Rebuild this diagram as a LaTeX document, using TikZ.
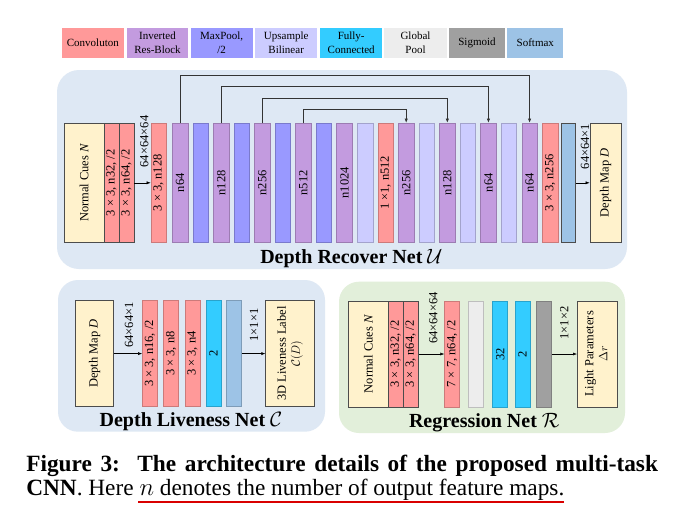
\documentclass[tikz,border=0pt]{standalone}
\usepackage{fontspec}
\setmainfont{Liberation Serif}
\usetikzlibrary{arrows.meta}
\definecolor{convc}{HTML}{FF9999}
\definecolor{resc}{HTML}{C39BDF}
\definecolor{poolc}{HTML}{9999FF}
\definecolor{upc}{HTML}{CCCCFF}
\definecolor{fcc}{HTML}{33CCFF}
\definecolor{gpc}{HTML}{EDEDED}
\definecolor{sigc}{HTML}{A0A0A0}
\definecolor{smc}{HTML}{9DC3E6}
\definecolor{cuec}{HTML}{FFF2CC}
\definecolor{panelb}{HTML}{DEE8F4}
\definecolor{panelg}{HTML}{E2EFDA}
\newcommand{\blkfont}{\fontsize{12.5}{14}\selectfont}
\newcommand{\legfont}{\fontsize{11}{14}\selectfont}
\newcommand{\ttlfont}{\fontsize{20}{24}\selectfont\bfseries}
\newcommand{\rtext}[1]{\rotatebox{90}{#1}}
\newcommand{\rlines}[2]{\rotatebox{90}{\begin{tabular}{@{}c@{}}#1\\#2\end{tabular}}}
\begin{document}
\begin{tikzpicture}[x=1pt, y=-1pt, line width=0.6pt,
  blk/.style={draw=#1!80!black, fill=#1, minimum width=15.5pt, inner sep=0pt, font=\blkfont},
  blkd/.style={blk=#1, draw=black!70},
  tallblk/.style={minimum height=119pt},
  lowblk/.style={minimum height=106pt},
  cue/.style={draw=black!70, fill=cuec, inner sep=0pt, font=\blkfont},
  dim/.style={rotate=90, inner sep=0pt, font=\blkfont},
  arr/.style={-{Latex[length=4pt, width=3pt]}, line width=0.5pt},
  skip/.style={-{Latex[length=4.5pt, width=3.5pt]}, line width=1pt, black!80},
  leg/.style={fill=#1, minimum height=29.4pt, inner sep=0pt, align=center, font=\legfont},
  ttl/.style={anchor=base, inner sep=0pt, font=\ttlfont}]
  \useasboundingbox[fill=white] (0,0) rectangle (679,514);
  % 범례
  \foreach \x/\w/\col/\txt [count=\i] in {92.85/62.3/convc/Convoluton,
      157.5/61.6/resc/{Inverted\\Res-Block}, 221.7/62/poolc/{MaxPool,\\/2},
      286.2/62.3/upc/{Upsample\\Bilinear}, 351.2/62.3/fcc/{Fully-\\Connected},
      415.5/62.3/gpc/{Global\\Pool}, 477/56/sigc/Sigmoid, 535.3/56/smc/Softmax}
    \node[leg=\col, minimum width=\w pt] (g\i) at (\x,43) {\txt};
  % Depth Recover Net
  \fill[panelb, rounded corners=22pt] (57,70) rectangle (627,269);
  \node[cue, tallblk, minimum width=39.7pt] (cue) at (84.15,182.8) {\rtext{Normal Cues \textit{N}}};
  \node[blkd=convc, tallblk, minimum width=15pt] (c1) at (111.5,182.8) {\rtext{3 × 3, n32, /2}};
  \node[blkd=convc, tallblk, minimum width=15pt] (c2) at (126.5,182.8) {\rtext{3 × 3, n64, /2}};
  \node[blk=convc, tallblk, minimum width=15pt] (c3) at (158.5,182.8) {\rtext{3 × 3, n128}};
  \foreach \col/\txt [count=\i from 0] in {resc/n64, poolc/{}, resc/n128, poolc/{},
      resc/n256, poolc/{}, resc/n512, poolc/{}, resc/n1024, upc/{}, convc/{1 ×1, n512},
      resc/n256, upc/{}, resc/n128, upc/{}, resc/n64, upc/{}, resc/n64, convc/{3 × 3, n256}}
    \node[blk=\col, tallblk] (b\i) at ({180.05+20.56*\i},182.8) {\rtext{\txt}};
  \node[blkd=smc, tallblk, minimum width=14pt] (sm) at (568.7,182.8) {};
  \node[cue, tallblk, minimum width=31pt] (dmap) at (605.5,182.8) {\rtext{Depth Map \textit{D}}};
  \draw[arr] (c2) -- (c3);
  \draw[arr] (sm) -- (dmap);
  \node[dim] (d1) at (144.3,141.5) {64×64×64};
  \node[dim] (d2) at (585,146.5) {64×64×1};
  \foreach \a/\b/\h in {0/17/47.6, 2/15/36.6, 4/13/25, 6/11/13.3}
    \draw[skip] (b\a.north) -- ++(0,-\h) -| (b\b.north);
  \node[ttl] (tu) at (351.4,263.3) {Depth Recover Net $\mathcal{U}$};
  % Depth Liveness Net
  \fill[panelb, rounded corners=20pt] (58,280) rectangle (325,431.7);
  \node[cue, lowblk, minimum width=37.6pt] (ldm) at (94.5,353.6) {\rtext{Depth Map \textit{D}}};
  \foreach \x/\col/\txt [count=\i] in {150/convc/{3 × 3, n16, /2}, 171.2/convc/{3 × 3, n8},
      192.5/convc/{3 × 3, n4}, 213.4/fcc/2, 234.2/smc/{}}
    \node[blk=\col, lowblk, minimum width=15pt] (l\i) at (\x,353.6) {\rtext{\txt}};
  \node[cue, lowblk, minimum width=48.6pt] (lab) at (290,353.6) {\rlines{3D Liveness Label}{$\mathcal{C}(D)$}};
  \draw[arr] (ldm) -- (l1);
  \draw[arr] (l5) -- (lab);
  \node[dim] (d3) at (129,325) {64×64×1};
  \node[dim] (d4) at (254,325) {1×1×1};
  \node[ttl] (tc) at (191,426.7) {Depth Liveness Net $\mathcal{C}$};
  % Regression Net
  \fill[panelg, rounded corners=20pt] (339,281.7) rectangle (625,433);
  \node[cue, lowblk, minimum width=40pt] (rcue) at (368.3,354) {\rtext{Normal Cues \textit{N}}};
  \node[blkd=convc, lowblk, minimum width=15pt] (r1) at (395.8,354) {\rtext{3 × 3, n32, /2}};
  \node[blkd=convc, lowblk, minimum width=15pt] (r2) at (410.8,354) {\rtext{3 × 3, n64, /2}};
  \foreach \x/\col/\txt [count=\i from 3] in {452.2/convc/{7 × 7, n64, /2}, 475.8/gpc/{},
      500.2/fcc/32, 522.5/fcc/2, 544.2/sigc/{}}
    \node[blk=\col, lowblk, minimum width=15pt] (r\i) at (\x,354) {\rtext{\txt}};
  \node[cue, lowblk, minimum width=40.4pt] (light) at (597.5,354) {\rlines{Light Parameters}{$\Delta r$}};
  \draw[arr] (r2) -- (r3);
  \draw[arr] (r7) -- (light);
  \node[dim] (d5) at (433.3,318) {64×64×64};
  \node[dim] (d6) at (564.3,323) {1×1×2};
  \node[ttl] (tr) at (484.3,427.7) {Regression Net $\mathcal{R}$};
  % 캡션
  \node[anchor=base west, inner sep=0pt, font=\fontsize{23.3}{23.3}\selectfont\bfseries] (cap1) at (26,471.7)
    {\makebox[631.7pt][s]{Figure 3:\ \ The architecture details of the proposed multi-task}};
  \node[anchor=base west, inner sep=0pt, font=\fontsize{23.3}{23.3}\selectfont] (cap2) at (26,495)
    {\textbf{CNN}. Here $n$ denotes the number of output feature maps.};
  \draw[red!85!black, line width=2.2pt] (138.3,501.7) -- (564.3,501.7);
\end{tikzpicture}
\end{document}
